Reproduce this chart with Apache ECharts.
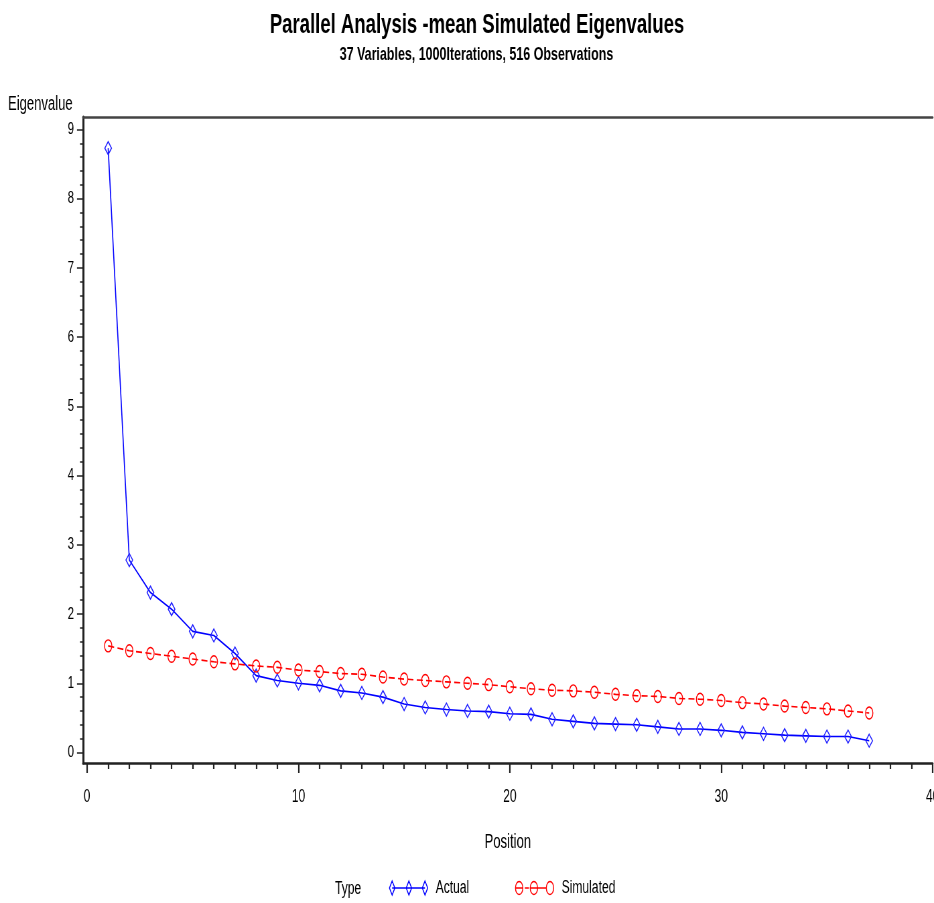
<!DOCTYPE html>
<html>
<head>
<meta charset="utf-8">
<script src="https://cdn.jsdelivr.net/npm/echarts@6/dist/echarts.min.js"></script>
<style>
html,body{margin:0;padding:0;overflow:hidden;background:#fff;width:934px;height:903px;}
#c{width:1394px;height:903px;transform:scaleX(0.67);transform-origin:0 0;}
</style>
</head>
<body>
<div id="c"></div>
<script>
// ---------- data ----------
const titleText = 'Parallel Analysis -mean Simulated Eigenvalues';
const subtitleText = '37 Variables, 1000Iterations, 516 Observations';
const yAxisTitle = 'Eigenvalue';
const xAxisTitle = 'Position';
const legendTitle = 'Type';
const seriesNames = ['Actual', 'Simulated'];

const positions = [1,2,3,4,5,6,7,8,9,10,11,12,13,14,15,16,17,18,19,20,21,22,23,24,25,26,27,28,29,30,31,32,33,34,35,36,37];
const actual = [8.73,2.78,2.31,2.07,1.75,1.69,1.43,1.11,1.04,1.00,0.97,0.89,0.86,0.80,0.70,0.65,0.62,0.60,0.59,0.56,0.55,0.48,0.45,0.42,0.41,0.40,0.37,0.34,0.34,0.32,0.29,0.27,0.25,0.24,0.23,0.23,0.17];
const simulated = [1.54,1.47,1.43,1.39,1.35,1.31,1.28,1.25,1.23,1.19,1.17,1.14,1.13,1.09,1.06,1.04,1.02,1.00,0.98,0.95,0.92,0.90,0.89,0.87,0.84,0.82,0.81,0.78,0.77,0.75,0.72,0.70,0.67,0.65,0.63,0.60,0.57];

const xMajorTicks = [0,10,20,30,40];
const yMajorTicks = [0,1,2,3,4,5,6,7,8,9];
const xMinorTicks = [];
for (let v = 1; v < 40; v++) if (v % 10 !== 0) xMinorTicks.push(v);
const yMinorTicks = [];
for (let v = 1; v < 45; v++) if (v % 5 !== 0) yMinorTicks.push(+(v * 0.2).toFixed(1));

// ---------- layout helpers ----------
const S = 0.67;               // horizontal squeeze applied via CSS
const W = 1394, H = 903;
const px = v => v / S;        // reference x -> chart x
const X_MIN = -0.19, X_MAX = 40, Y_MIN = -0.152, Y_MAX = 9.18;
const FONT = '"Liberation Sans", Arial, Helvetica, sans-serif';

const actualIcon = 'path://M4 0L8 7L4 14L0 7Z M29 0L33 7L29 14L25 7Z M53 0L57 7L53 14L49 7Z M4 7L53 7';
const simIcon = 'path://M0 7A5.5 6.5 0 1 0 11 7A5.5 6.5 0 1 0 0 7Z M22 7A5.5 6.5 0 1 0 33 7A5.5 6.5 0 1 0 22 7Z M46 7A5.5 6.5 0 1 0 57 7A5.5 6.5 0 1 0 46 7Z M0 7L11 7 M14 7L20 7 M22 7L46 7';

function txt(text, x, y, size, weight, align) {
  return {
    type: 'text', x: x, y: y, silent: true,
    style: {
      text: text, fill: '#000',
      font: weight + ' ' + size + 'px ' + FONT,
      textAlign: align, align: align,
      textVerticalAlign: 'middle', verticalAlign: 'middle'
    }
  };
}

const chart = echarts.init(document.getElementById('c'), null, {renderer: 'canvas', width: W, height: H});

const baseX = {
  type: 'value', min: X_MIN, max: X_MAX, splitLine: {show: false}
};
const baseY = {
  type: 'value', min: Y_MIN, max: Y_MAX, splitLine: {show: false}
};

const option = {
  animation: false,
  backgroundColor: '#ffffff',
  graphic: [
    txt(titleText, px(477), 25.5, 27.7, 'bold', 'center'),
    txt(subtitleText, px(476.5), 54.5, 18.6, 'bold', 'center'),
    txt(yAxisTitle, px(8), 105, 19.5, 'normal', 'left'),
    txt(legendTitle, px(335), 889.3, 18, 'normal', 'left')
  ],
  grid: {
    left: px(83), right: W - px(932.6), top: 117, bottom: 140,
    containLabel: false, outerBoundsMode: 'none'
  },
  xAxis: [
    Object.assign({}, baseX, {
      position: 'bottom',
      name: xAxisTitle, nameLocation: 'middle', nameGap: 70,
      nameTextStyle: {fontFamily: FONT, fontSize: 19.5, color: '#000'},
      axisLine: {show: true, onZero: false, lineStyle: {color: '#222', width: 2.5}},
      axisTick: {show: true, length: 10, customValues: xMajorTicks, lineStyle: {color: '#222', width: 2.2}},
      axisLabel: {show: true, customValues: xMajorTicks, margin: 25, fontFamily: FONT, fontSize: 18, color: '#000'}
    }),
    Object.assign({}, baseX, {
      position: 'bottom',
      axisLine: {show: false, onZero: false},
      axisTick: {show: true, length: 6, customValues: xMinorTicks, lineStyle: {color: '#222', width: 2.2}},
      axisLabel: {show: false}
    }),
    Object.assign({}, baseX, {
      position: 'top',
      axisLine: {show: true, onZero: false, lineStyle: {color: '#444', width: 2.5}},
      axisTick: {show: false},
      axisLabel: {show: false}
    })
  ],
  yAxis: [
    Object.assign({}, baseY, {
      position: 'left',
      axisLine: {show: true, onZero: false, lineStyle: {color: '#222', width: 3}},
      axisTick: {show: true, length: 9, customValues: yMajorTicks, lineStyle: {color: '#222', width: 1.5}},
      axisLabel: {show: true, customValues: yMajorTicks, margin: 13.4, fontFamily: FONT, fontSize: 17, color: '#000'}
    }),
    Object.assign({}, baseY, {
      position: 'left',
      axisLine: {show: false, onZero: false},
      axisTick: {show: true, length: 4.5, customValues: yMinorTicks, lineStyle: {color: '#222', width: 1.5}},
      axisLabel: {show: false}
    })
  ],
  legend: [
    {
      left: px(389), top: 879, padding: 0, selectedMode: false,
      itemWidth: 57, itemHeight: 14,
      textStyle: {fontFamily: FONT, fontSize: 18, color: '#000', padding: [0, 0, 0, 7]},
      data: [{name: seriesNames[0], icon: actualIcon,
              itemStyle: {color: 'rgba(0,0,0,0)', borderColor: '#0000ff', borderWidth: 1.4}}]
    },
    {
      left: px(515), top: 879, padding: 0, selectedMode: false,
      itemWidth: 57, itemHeight: 14,
      textStyle: {fontFamily: FONT, fontSize: 18, color: '#000', padding: [0, 0, 0, 7]},
      data: [{name: seriesNames[1], icon: simIcon,
              itemStyle: {color: 'rgba(0,0,0,0)', borderColor: '#ff0000', borderWidth: 1.4}}]
    }
  ],
  series: [
    {
      name: seriesNames[0], type: 'line', xAxisIndex: 0, yAxisIndex: 0,
      data: positions.map((p, i) => [p, actual[i]]),
      symbol: 'diamond', symbolSize: [10, 13], showSymbol: true,
      lineStyle: {color: '#0000ff', width: 1.6},
      itemStyle: {color: 'rgba(0,0,0,0)', borderColor: '#2020ff', borderWidth: 1.4},
      emphasis: {disabled: true}, z: 3
    },
    {
      name: seriesNames[1], type: 'line', xAxisIndex: 0, yAxisIndex: 0,
      data: positions.map((p, i) => [p, simulated[i]]),
      symbol: 'circle', symbolSize: [11, 12], showSymbol: true,
      lineStyle: {color: '#ff0000', width: 1.6, type: [9, 5]},
      itemStyle: {color: 'rgba(0,0,0,0)', borderColor: '#ff0000', borderWidth: 1.4},
      emphasis: {disabled: true}, z: 4
    }
  ]
};
chart.setOption(option);
</script>
</body>
</html>
